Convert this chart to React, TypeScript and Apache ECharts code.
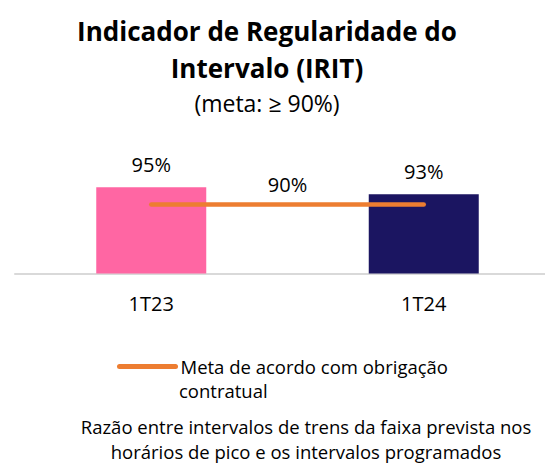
import React, { useEffect, useRef } from "react";
import * as echarts from "echarts";

const categories = ["1T23", "1T24"];
const barValues = [95, 93];
const barColors = ["#FF66A3", "#1B1561"];
const targetValues = [90, 90];
const targetName = "Meta de acordo com obrigação contratual";
const titleLines = ["Indicador de Regularidade do", "Intervalo (IRIT)"];
const subtitle = "(meta: ≥ 90%)";
const footerLines = [
  "Razão entre intervalos de trens da faixa prevista nos",
  "horários de pico e os intervalos programados",
];

const FONT = "'Open Sans', 'Noto Sans', sans-serif";

export default function App() {
  const ref = useRef<HTMLDivElement>(null);
  useEffect(() => {
    if (!ref.current) return;
    const chart = echarts.init(ref.current, undefined, { renderer: "svg" });
    chart.setOption({
      animation: false,
      textStyle: { fontFamily: FONT },
      grid: {
        left: 15,
        width: 545,
        top: 170,
        bottom: 189.5,
        containLabel: false,
        outerBoundsMode: "none",
      },
      xAxis: {
        type: "category",
        data: categories,
        axisLine: { show: true, lineStyle: { color: "#D9D9D9", width: 2 } },
        axisTick: { show: false },
        axisLabel: { fontSize: 20, color: "#000", fontFamily: FONT, margin: 20 },
      },
      yAxis: { type: "value", min: 70, max: 100, show: false, splitLine: { show: false } },
      legend: {
        left: 112,
        top: 352,
        selectedMode: false,
        itemWidth: 56,
        itemHeight: 6,
        itemStyle: { opacity: 0 },
        lineStyle: { width: 5, cap: "round" },
        data: [{ name: targetName }],
        formatter: () => "Meta de acordo com obrigação",
        textStyle: { fontSize: 18.5, color: "#000", fontFamily: FONT },
      },
      series: [
        {
          type: "bar",
          name: "IRIT",
          barWidth: 110,
          data: barValues.map((v, i) => ({ value: v, itemStyle: { color: barColors[i] } })),
          label: {
            show: true,
            position: "top",
            distance: 13,
            formatter: "{c}%",
            fontSize: 20,
            color: "#000",
            fontFamily: FONT,
          },
        },
        {
          type: "line",
          name: targetName,
          data: targetValues,
          symbol: "none",
          color: "#ED7D31",
          lineStyle: { color: "#ED7D31", width: 4.5, cap: "round" },
          markLine: {
            silent: true,
            symbol: "none",
            lineStyle: { color: "rgba(0,0,0,0)", width: 0 },
            label: {
              show: true,
              position: "middle",
              distance: 10,
              formatter: "90%",
              fontSize: 20,
              color: "#000",
              fontFamily: FONT,
            },
            data: [[{ coord: [0, targetValues[0]] }, { coord: [1, targetValues[1]] }]],
          },
        },
      ],
      graphic: [
        ...titleLines.map((t, i) => ({
          type: "text",
          x: 267,
          y: 31 + i * 37,
          style: {
            text: t,
            textAlign: "center",
            textVerticalAlign: "middle",
            fontSize: 26,
            fontWeight: "bold",
            fontFamily: FONT,
            fill: "#000",
          },
        })),
        {
          type: "text",
          x: 267,
          y: 103,
          style: {
            text: subtitle,
            textAlign: "center",
            textVerticalAlign: "middle",
            fontSize: 23,
            fontFamily: FONT,
            fill: "#000",
          },
        },
        {
          type: "text",
          x: 179,
          y: 390,
          style: {
            text: "contratual",
            textAlign: "left",
            textVerticalAlign: "middle",
            fontSize: 18.5,
            fontFamily: FONT,
            fill: "#000",
          },
        },
        ...footerLines.map((t, i) => ({
          type: "text",
          x: 306,
          y: 426 + i * 25,
          style: {
            text: t,
            textAlign: "center",
            textVerticalAlign: "middle",
            fontSize: 18.5,
            fontFamily: FONT,
            fill: "#000",
          },
        })),
      ],
    });
    return () => chart.dispose();
  }, []);
  return (
    <div
      ref={ref}
      style={{ position: "fixed", left: 0, top: 0, width: 545, height: 463, background: "#fff" }}
    />
  );
}
